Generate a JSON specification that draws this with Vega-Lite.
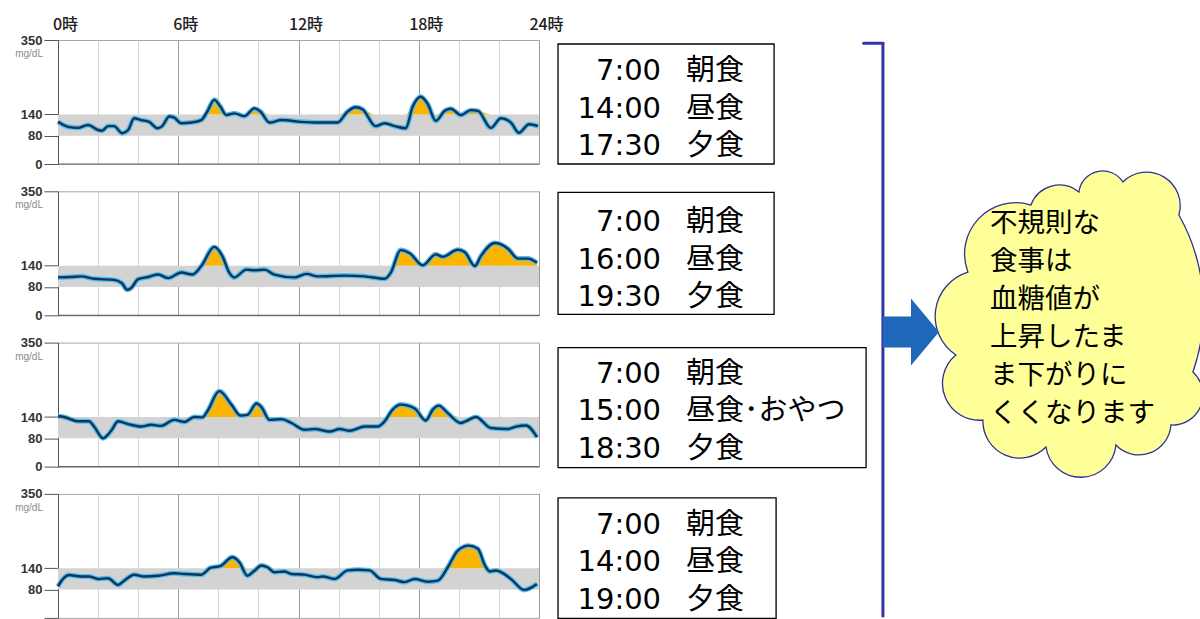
{
  "$schema": "https://vega.github.io/schema/vega-lite/v6.json",
  "background": "white",
  "padding": {"left": 14, "top": 15, "right": 0, "bottom": 0},
  "spacing": 27.3,
  "bounds": "flush",
  "datasets": {
    "note": [{"msg": "不規則な\n食事は\n血糖値が\n上昇したま\nま下がりに\nくくなります"}],
    "meals": [
      {"d": 1, "n": 1, "time": "7:00", "meal": "朝食"},
      {"d": 1, "n": 2, "time": "14:00", "meal": "昼食"},
      {"d": 1, "n": 3, "time": "17:30", "meal": "夕食"},
      {"d": 2, "n": 1, "time": "7:00", "meal": "朝食"},
      {"d": 2, "n": 2, "time": "16:00", "meal": "昼食"},
      {"d": 2, "n": 3, "time": "19:30", "meal": "夕食"},
      {"d": 3, "n": 1, "time": "7:00", "meal": "朝食"},
      {"d": 3, "n": 2, "time": "15:00", "meal": "昼食･おやつ"},
      {"d": 3, "n": 3, "time": "18:30", "meal": "夕食"},
      {"d": 4, "n": 1, "time": "7:00", "meal": "朝食"},
      {"d": 4, "n": 2, "time": "14:00", "meal": "昼食"},
      {"d": 4, "n": 3, "time": "19:00", "meal": "夕食"}
    ],
    "cgm": [
      {"d":1,"t":0,"g":119},{"d":1,"t":0.5,"g":105},{"d":1,"t":1.0,"g":102},{"d":1,"t":1.5,"g":110},{"d":1,"t":2.0,"g":96},{"d":1,"t":2.2,"g":94},{"d":1,"t":2.5,"g":107},{"d":1,"t":2.8,"g":107},{"d":1,"t":3.2,"g":87},{"d":1,"t":3.5,"g":96},{"d":1,"t":3.8,"g":129},{"d":1,"t":4.15,"g":124},{"d":1,"t":4.55,"g":119},{"d":1,"t":4.95,"g":101},{"d":1,"t":5.2,"g":107},{"d":1,"t":5.55,"g":134},{"d":1,"t":5.8,"g":131},{"d":1,"t":6.15,"g":115},{"d":1,"t":6.65,"g":117},{"d":1,"t":7.15,"g":124},{"d":1,"t":7.45,"g":148},{"d":1,"t":7.8,"g":181},{"d":1,"t":8.1,"g":162},{"d":1,"t":8.4,"g":138},{"d":1,"t":8.8,"g":143},{"d":1,"t":9.3,"g":135},{"d":1,"t":9.8,"g":157},{"d":1,"t":10.1,"g":148},{"d":1,"t":10.55,"g":117},{"d":1,"t":11.15,"g":124},{"d":1,"t":12.1,"g":119},{"d":1,"t":13.0,"g":117},{"d":1,"t":13.95,"g":117},{"d":1,"t":14.45,"g":148},{"d":1,"t":14.85,"g":160},{"d":1,"t":15.2,"g":154},{"d":1,"t":15.85,"g":107},{"d":1,"t":16.3,"g":115},{"d":1,"t":16.8,"g":107},{"d":1,"t":17.35,"g":101},{"d":1,"t":17.7,"g":162},{"d":1,"t":18.1,"g":190},{"d":1,"t":18.45,"g":169},{"d":1,"t":18.85,"g":122},{"d":1,"t":19.3,"g":150},{"d":1,"t":19.6,"g":156},{"d":1,"t":20.1,"g":138},{"d":1,"t":20.6,"g":152},{"d":1,"t":20.95,"g":150},{"d":1,"t":21.6,"g":102},{"d":1,"t":22.1,"g":129},{"d":1,"t":22.6,"g":117},{"d":1,"t":23.0,"g":88},{"d":1,"t":23.5,"g":112},{"d":1,"t":23.95,"g":107},
      {"d":2,"t":0,"g":107},{"d":2,"t":0.6,"g":108},{"d":2,"t":1.15,"g":110},{"d":2,"t":1.8,"g":103},{"d":2,"t":2.8,"g":100},{"d":2,"t":3.2,"g":90},{"d":2,"t":3.45,"g":72},{"d":2,"t":3.65,"g":77},{"d":2,"t":4.0,"g":102},{"d":2,"t":4.5,"g":108},{"d":2,"t":5.0,"g":115},{"d":2,"t":5.5,"g":105},{"d":2,"t":6.15,"g":121},{"d":2,"t":6.7,"g":115},{"d":2,"t":7.15,"g":139},{"d":2,"t":7.8,"g":193},{"d":2,"t":8.2,"g":167},{"d":2,"t":8.55,"g":120},{"d":2,"t":8.8,"g":107},{"d":2,"t":9.4,"g":129},{"d":2,"t":9.8,"g":127},{"d":2,"t":10.3,"g":129},{"d":2,"t":10.8,"g":115},{"d":2,"t":11.8,"g":107},{"d":2,"t":12.4,"g":117},{"d":2,"t":12.95,"g":110},{"d":2,"t":14.3,"g":112},{"d":2,"t":15.3,"g":110},{"d":2,"t":16.3,"g":103},{"d":2,"t":16.6,"g":120},{"d":2,"t":17.1,"g":184},{"d":2,"t":17.55,"g":175},{"d":2,"t":18.2,"g":141},{"d":2,"t":18.85,"g":172},{"d":2,"t":19.2,"g":165},{"d":2,"t":19.95,"g":185},{"d":2,"t":20.3,"g":178},{"d":2,"t":20.8,"g":139},{"d":2,"t":21.1,"g":167},{"d":2,"t":21.8,"g":204},{"d":2,"t":22.45,"g":188},{"d":2,"t":22.95,"g":160},{"d":2,"t":23.45,"g":160},{"d":2,"t":23.9,"g":148},
      {"d":3,"t":0,"g":142},{"d":3,"t":0.3,"g":140},{"d":3,"t":1.0,"g":128},{"d":3,"t":1.55,"g":128},{"d":3,"t":1.8,"g":113},{"d":3,"t":2.25,"g":80},{"d":3,"t":2.65,"g":101},{"d":3,"t":3.0,"g":128},{"d":3,"t":3.5,"g":120},{"d":3,"t":4.15,"g":113},{"d":3,"t":4.65,"g":118},{"d":3,"t":5.15,"g":115},{"d":3,"t":5.8,"g":132},{"d":3,"t":6.3,"g":126},{"d":3,"t":6.8,"g":140},{"d":3,"t":7.2,"g":139},{"d":3,"t":7.45,"g":156},{"d":3,"t":8.05,"g":213},{"d":3,"t":8.65,"g":175},{"d":3,"t":9.1,"g":144},{"d":3,"t":9.45,"g":146},{"d":3,"t":9.9,"g":178},{"d":3,"t":10.15,"g":168},{"d":3,"t":10.55,"g":132},{"d":3,"t":11.15,"g":134},{"d":3,"t":11.65,"g":123},{"d":3,"t":12.3,"g":104},{"d":3,"t":12.8,"g":106},{"d":3,"t":13.55,"g":99},{"d":3,"t":14.05,"g":106},{"d":3,"t":14.55,"g":101},{"d":3,"t":15.3,"g":113},{"d":3,"t":15.95,"g":113},{"d":3,"t":16.3,"g":128},{"d":3,"t":16.7,"g":161},{"d":3,"t":17.1,"g":175},{"d":3,"t":17.8,"g":164},{"d":3,"t":18.35,"g":130},{"d":3,"t":18.7,"g":161},{"d":3,"t":19.0,"g":172},{"d":3,"t":19.45,"g":151},{"d":3,"t":20.1,"g":123},{"d":3,"t":20.35,"g":128},{"d":3,"t":20.85,"g":140},{"d":3,"t":21.6,"g":109},{"d":3,"t":22.45,"g":106},{"d":3,"t":22.85,"g":113},{"d":3,"t":23.35,"g":116},{"d":3,"t":23.9,"g":83},
      {"d":4,"t":0,"g":89},{"d":4,"t":0.25,"g":110},{"d":4,"t":0.55,"g":121},{"d":4,"t":1.15,"g":117},{"d":4,"t":1.55,"g":117},{"d":4,"t":2.0,"g":110},{"d":4,"t":2.5,"g":112},{"d":4,"t":3.0,"g":93},{"d":4,"t":3.3,"g":105},{"d":4,"t":3.8,"g":122},{"d":4,"t":4.3,"g":117},{"d":4,"t":5.0,"g":119},{"d":4,"t":5.8,"g":126},{"d":4,"t":6.3,"g":124},{"d":4,"t":7.15,"g":122},{"d":4,"t":7.6,"g":141},{"d":4,"t":8.1,"g":146},{"d":4,"t":8.7,"g":171},{"d":4,"t":9.05,"g":157},{"d":4,"t":9.45,"g":119},{"d":4,"t":9.8,"g":133},{"d":4,"t":10.15,"g":148},{"d":4,"t":10.45,"g":143},{"d":4,"t":10.8,"g":129},{"d":4,"t":11.3,"g":131},{"d":4,"t":11.65,"g":124},{"d":4,"t":12.3,"g":122},{"d":4,"t":12.95,"g":115},{"d":4,"t":13.2,"g":117},{"d":4,"t":13.8,"g":110},{"d":4,"t":14.45,"g":134},{"d":4,"t":14.95,"g":136},{"d":4,"t":15.55,"g":134},{"d":4,"t":16.1,"g":110},{"d":4,"t":16.8,"g":107},{"d":4,"t":17.3,"g":101},{"d":4,"t":17.8,"g":110},{"d":4,"t":18.45,"g":102},{"d":4,"t":18.95,"g":105},{"d":4,"t":19.45,"g":143},{"d":4,"t":19.95,"g":190},{"d":4,"t":20.5,"g":204},{"d":4,"t":20.95,"g":195},{"d":4,"t":21.3,"g":148},{"d":4,"t":21.55,"g":131},{"d":4,"t":21.85,"g":134},{"d":4,"t":22.6,"g":110},{"d":4,"t":23.25,"g":79},{"d":4,"t":23.9,"g":96}
    ]
  },
  "vconcat": [
    {
      "width": 481, "height": 124,
      "resolve": {"scale": {"y": "independent"}},
      "layer": [
        {"layer": [
          {"data": {"name": "meals"}, "transform": [{"filter": "datum.d === 1 && datum.n === 1"}], "mark": {"type": "rect", "color": "#d3d3d3"}, "encoding": {"x": {"datum": 0}, "x2": {"datum": 24}, "y": {"datum": 80}, "y2": {"datum": 140}}},
          {"data": {"name": "cgm"}, "transform": [{"filter": "datum.d === 1"}, {"calculate": "max(datum.g, 140)", "as": "gc"}], "mark": {"type": "area", "color": "#fbb500", "interpolate": "monotone"}, "encoding": {"x": {"field": "t", "type": "quantitative"}, "y": {"field": "gc", "type": "quantitative"}, "y2": {"datum": 140}}},
          {"data": {"name": "cgm"}, "transform": [{"filter": "datum.d === 1"}], "mark": {"type": "line", "color": "#58bdee", "strokeWidth": 5, "interpolate": "monotone"}, "encoding": {
            "x": {"field": "t", "type": "quantitative", "scale": {"domain": [0, 24], "nice": false, "zero": false}, "axis": {"orient": "top", "values": [0,2,4,6,8,10,12,14,16,18,20,22,24], "labelExpr": "datum.value % 6 === 0 ? datum.value + '時' : ''", "labelFlush": false, "labelOverlap": false, "labelFontSize": 16, "labelFont": "Noto Sans CJK JP", "labelFontWeight": 500, "labelColor": "#222", "labelPadding": 8, "labelOffset": 7, "ticks": false, "domain": false, "grid": true, "gridColor": {"condition": {"test": "datum.value % 6 === 0", "value": "#9c9c9c"}, "value": "#d6d6d6"}, "title": null}},
            "y": {"field": "g", "type": "quantitative", "scale": {"domain": [0, 350], "nice": false}, "axis": {"values": [0, 80, 140, 350], "grid": false, "tickSize": 14, "tickColor": "#555", "domainColor": "#555", "labelFontSize": 13, "labelFontWeight": "bold", "labelColor": "#333", "labelPadding": 2, "labelFlush": false, "labelFont": "Liberation Sans", "title": null}}}},
          {"data": {"name": "cgm"}, "transform": [{"filter": "datum.d === 1"}], "mark": {"type": "line", "color": "#0c375a", "strokeWidth": 2.4, "interpolate": "monotone"}, "encoding": {"x": {"field": "t", "type": "quantitative"}, "y": {"field": "g", "type": "quantitative"}}},
          {"data": {"name": "meals"}, "transform": [{"filter": "datum.d === 1 && datum.n === 1"}], "mark": {"type": "rule", "color": "#666", "strokeWidth": 1.2}, "encoding": {"x": {"datum": 0}, "x2": {"datum": 24}, "y": {"datum": 0}}},
          {"data": {"name": "meals"}, "transform": [{"filter": "datum.d === 1 && datum.n === 1"}], "mark": {"type": "text", "text": "mg/dL", "align": "right", "baseline": "middle", "fontSize": 10, "color": "#8a8a8a", "font": "Liberation Sans"}, "encoding": {"x": {"datum": -0.75}, "y": {"datum": 310}}},
          {"data": {"name": "meals"}, "transform": [{"filter": "datum.d === 1 && datum.n === 1"}], "mark": {"type": "rect", "fill": "white", "stroke": "black", "strokeWidth": 1.3}, "encoding": {"x": {"datum": 24.95}, "x2": {"datum": 35.73}, "y": {"datum": 338.7}, "y2": {"datum": 0}}},
          {"data": {"name": "note"}, "mark": {"type": "rule", "color": "#3434a6", "strokeWidth": 3}, "encoding": {"x": {"datum": 41.16}, "y": {"datum": 344}, "y2": {"datum": -1279}}},
          {"data": {"name": "note"}, "mark": {"type": "rule", "color": "#3434a6", "strokeWidth": 3, "strokeCap": "round"}, "encoding": {"x": {"datum": 40.2}, "x2": {"datum": 41.16}, "y": {"datum": 341}}},
          {"data": {"name": "note"}, "mark": {"type": "point", "shape": "M-0.694,-0.306 A0.32,0.32 0 0 1 -0.3,-0.725 A0.19,0.19 0 0 1 0,-0.806 A0.15,0.15 0 0 1 0.275,-0.869 A0.21,0.21 0 0 1 0.625,-0.6625 A1.2,1.2 0 0 1 0.7125,0.319 A0.19,0.19 0 0 1 0.575,0.65 A0.2,0.2 0 0 1 0.231,0.775 A0.22,0.22 0 0 1 -0.206,0.7875 A0.23,0.23 0 0 1 -0.6,0.619 A0.23,0.23 0 0 1 -0.769,0.2125 A0.29,0.29 0 0 1 -0.694,-0.306 Z", "size": 102400, "filled": true, "color": "#ffff99", "stroke": "#2e3192", "strokeWidth": 1.3, "opacity": 1}, "encoding": {"x": {"datum": 50.94}, "y": {"datum": -443.2}}},
          {"data": {"name": "note"}, "mark": {"type": "point", "shape": "M-0.836,-0.463L0,-0.463L0,-1L0.836,0L0,1L0,0.463L-0.836,0.463Z", "size": 4489, "filled": true, "color": "#1f67b9", "opacity": 1}, "encoding": {"x": {"datum": 42.56}, "y": {"datum": -474.2}}},
          {"data": {"name": "note"}, "mark": {"type": "text", "align": "left", "baseline": "middle", "fontSize": 27.5, "lineHeight": 38, "lineBreak": "\n", "font": "Noto Sans CJK JP", "color": "black"}, "encoding": {"x": {"datum": 46.5}, "y": {"datum": -169.4}, "text": {"field": "msg"}}}
        ]},
        {"data": {"name": "meals"}, "transform": [{"filter": "datum.d === 1"}],
         "encoding": {"y": {"field": "n", "type": "quantitative", "scale": {"domain": [0.173, 3.48], "reverse": true, "nice": false, "zero": false}, "axis": null}},
         "layer": [
          {"mark": {"type": "text", "align": "right", "baseline": "middle", "fontSize": 29, "font": "DejaVu Sans, Noto Sans CJK JP", "color": "black"}, "encoding": {"x": {"datum": 30.09}, "text": {"field": "time"}}},
          {"mark": {"type": "text", "align": "left", "baseline": "middle", "fontSize": 29, "font": "DejaVu Sans, Noto Sans CJK JP", "color": "black"}, "encoding": {"x": {"datum": 31.33}, "text": {"field": "meal"}}}
        ]}
      ]
    },
    {
      "width": 481, "height": 124,
      "resolve": {"scale": {"y": "independent"}},
      "layer": [
        {"layer": [
          {"data": {"name": "meals"}, "transform": [{"filter": "datum.d === 2 && datum.n === 1"}], "mark": {"type": "rect", "color": "#d3d3d3"}, "encoding": {"x": {"datum": 0}, "x2": {"datum": 24}, "y": {"datum": 80}, "y2": {"datum": 140}}},
          {"data": {"name": "cgm"}, "transform": [{"filter": "datum.d === 2"}, {"calculate": "max(datum.g, 140)", "as": "gc"}], "mark": {"type": "area", "color": "#fbb500", "interpolate": "monotone"}, "encoding": {"x": {"field": "t", "type": "quantitative"}, "y": {"field": "gc", "type": "quantitative"}, "y2": {"datum": 140}}},
          {"data": {"name": "cgm"}, "transform": [{"filter": "datum.d === 2"}], "mark": {"type": "line", "color": "#58bdee", "strokeWidth": 5, "interpolate": "monotone"}, "encoding": {
            "x": {"field": "t", "type": "quantitative", "scale": {"domain": [0, 24], "nice": false, "zero": false}, "axis": {"orient": "top", "values": [0,2,4,6,8,10,12,14,16,18,20,22,24], "labels": false, "ticks": false, "domain": false, "grid": true, "gridColor": {"condition": {"test": "datum.value % 6 === 0", "value": "#9c9c9c"}, "value": "#d6d6d6"}, "title": null}},
            "y": {"field": "g", "type": "quantitative", "scale": {"domain": [0, 350], "nice": false}, "axis": {"values": [0, 80, 140, 350], "grid": false, "tickSize": 14, "tickColor": "#555", "domainColor": "#555", "labelFontSize": 13, "labelFontWeight": "bold", "labelColor": "#333", "labelPadding": 2, "labelFlush": false, "labelFont": "Liberation Sans", "title": null}}}},
          {"data": {"name": "cgm"}, "transform": [{"filter": "datum.d === 2"}], "mark": {"type": "line", "color": "#0c375a", "strokeWidth": 2.4, "interpolate": "monotone"}, "encoding": {"x": {"field": "t", "type": "quantitative"}, "y": {"field": "g", "type": "quantitative"}}},
          {"data": {"name": "meals"}, "transform": [{"filter": "datum.d === 2 && datum.n === 1"}], "mark": {"type": "rule", "color": "#666", "strokeWidth": 1.2}, "encoding": {"x": {"datum": 0}, "x2": {"datum": 24}, "y": {"datum": 0}}},
          {"data": {"name": "meals"}, "transform": [{"filter": "datum.d === 2 && datum.n === 1"}], "mark": {"type": "text", "text": "mg/dL", "align": "right", "baseline": "middle", "fontSize": 10, "color": "#8a8a8a", "font": "Liberation Sans"}, "encoding": {"x": {"datum": -0.75}, "y": {"datum": 310}}},
          {"data": {"name": "meals"}, "transform": [{"filter": "datum.d === 2 && datum.n === 1"}], "mark": {"type": "rect", "fill": "white", "stroke": "black", "strokeWidth": 1.3}, "encoding": {"x": {"datum": 24.95}, "x2": {"datum": 35.73}, "y": {"datum": 347.2}, "y2": {"datum": 2.8}}}
        ]},
        {"data": {"name": "meals"}, "transform": [{"filter": "datum.d === 2"}],
         "encoding": {"y": {"field": "n", "type": "quantitative", "scale": {"domain": [0.173, 3.48], "reverse": true, "nice": false, "zero": false}, "axis": null}},
         "layer": [
          {"mark": {"type": "text", "align": "right", "baseline": "middle", "fontSize": 29, "font": "DejaVu Sans, Noto Sans CJK JP", "color": "black"}, "encoding": {"x": {"datum": 30.09}, "text": {"field": "time"}}},
          {"mark": {"type": "text", "align": "left", "baseline": "middle", "fontSize": 29, "font": "DejaVu Sans, Noto Sans CJK JP", "color": "black"}, "encoding": {"x": {"datum": 31.33}, "text": {"field": "meal"}}}
        ]}
      ]
    },
    {
      "width": 481, "height": 124,
      "resolve": {"scale": {"y": "independent"}},
      "layer": [
        {"layer": [
          {"data": {"name": "meals"}, "transform": [{"filter": "datum.d === 3 && datum.n === 1"}], "mark": {"type": "rect", "color": "#d3d3d3"}, "encoding": {"x": {"datum": 0}, "x2": {"datum": 24}, "y": {"datum": 80}, "y2": {"datum": 140}}},
          {"data": {"name": "cgm"}, "transform": [{"filter": "datum.d === 3"}, {"calculate": "max(datum.g, 140)", "as": "gc"}], "mark": {"type": "area", "color": "#fbb500", "interpolate": "monotone"}, "encoding": {"x": {"field": "t", "type": "quantitative"}, "y": {"field": "gc", "type": "quantitative"}, "y2": {"datum": 140}}},
          {"data": {"name": "cgm"}, "transform": [{"filter": "datum.d === 3"}], "mark": {"type": "line", "color": "#58bdee", "strokeWidth": 5, "interpolate": "monotone"}, "encoding": {
            "x": {"field": "t", "type": "quantitative", "scale": {"domain": [0, 24], "nice": false, "zero": false}, "axis": {"orient": "top", "values": [0,2,4,6,8,10,12,14,16,18,20,22,24], "labels": false, "ticks": false, "domain": false, "grid": true, "gridColor": {"condition": {"test": "datum.value % 6 === 0", "value": "#9c9c9c"}, "value": "#d6d6d6"}, "title": null}},
            "y": {"field": "g", "type": "quantitative", "scale": {"domain": [0, 350], "nice": false}, "axis": {"values": [0, 80, 140, 350], "grid": false, "tickSize": 14, "tickColor": "#555", "domainColor": "#555", "labelFontSize": 13, "labelFontWeight": "bold", "labelColor": "#333", "labelPadding": 2, "labelFlush": false, "labelFont": "Liberation Sans", "title": null}}}},
          {"data": {"name": "cgm"}, "transform": [{"filter": "datum.d === 3"}], "mark": {"type": "line", "color": "#0c375a", "strokeWidth": 2.4, "interpolate": "monotone"}, "encoding": {"x": {"field": "t", "type": "quantitative"}, "y": {"field": "g", "type": "quantitative"}}},
          {"data": {"name": "meals"}, "transform": [{"filter": "datum.d === 3 && datum.n === 1"}], "mark": {"type": "rule", "color": "#666", "strokeWidth": 1.2}, "encoding": {"x": {"datum": 0}, "x2": {"datum": 24}, "y": {"datum": 0}}},
          {"data": {"name": "meals"}, "transform": [{"filter": "datum.d === 3 && datum.n === 1"}], "mark": {"type": "text", "text": "mg/dL", "align": "right", "baseline": "middle", "fontSize": 10, "color": "#8a8a8a", "font": "Liberation Sans"}, "encoding": {"x": {"datum": -0.75}, "y": {"datum": 310}}},
          {"data": {"name": "meals"}, "transform": [{"filter": "datum.d === 3 && datum.n === 1"}], "mark": {"type": "rect", "fill": "white", "stroke": "black", "strokeWidth": 1.3}, "encoding": {"x": {"datum": 24.95}, "x2": {"datum": 40.32}, "y": {"datum": 335.9}, "y2": {"datum": -2.8}}}
        ]},
        {"data": {"name": "meals"}, "transform": [{"filter": "datum.d === 3"}],
         "encoding": {"y": {"field": "n", "type": "quantitative", "scale": {"domain": [0.173, 3.48], "reverse": true, "nice": false, "zero": false}, "axis": null}},
         "layer": [
          {"mark": {"type": "text", "align": "right", "baseline": "middle", "fontSize": 29, "font": "DejaVu Sans, Noto Sans CJK JP", "color": "black"}, "encoding": {"x": {"datum": 30.09}, "text": {"field": "time"}}},
          {"mark": {"type": "text", "align": "left", "baseline": "middle", "fontSize": 29, "font": "DejaVu Sans, Noto Sans CJK JP", "color": "black"}, "encoding": {"x": {"datum": 31.33}, "text": {"field": "meal"}}}
        ]}
      ]
    },
    {
      "width": 481, "height": 124,
      "resolve": {"scale": {"y": "independent"}},
      "layer": [
        {"layer": [
          {"data": {"name": "meals"}, "transform": [{"filter": "datum.d === 4 && datum.n === 1"}], "mark": {"type": "rect", "color": "#d3d3d3"}, "encoding": {"x": {"datum": 0}, "x2": {"datum": 24}, "y": {"datum": 80}, "y2": {"datum": 140}}},
          {"data": {"name": "cgm"}, "transform": [{"filter": "datum.d === 4"}, {"calculate": "max(datum.g, 140)", "as": "gc"}], "mark": {"type": "area", "color": "#fbb500", "interpolate": "monotone"}, "encoding": {"x": {"field": "t", "type": "quantitative"}, "y": {"field": "gc", "type": "quantitative"}, "y2": {"datum": 140}}},
          {"data": {"name": "cgm"}, "transform": [{"filter": "datum.d === 4"}], "mark": {"type": "line", "color": "#58bdee", "strokeWidth": 5, "interpolate": "monotone"}, "encoding": {
            "x": {"field": "t", "type": "quantitative", "scale": {"domain": [0, 24], "nice": false, "zero": false}, "axis": {"orient": "top", "values": [0,2,4,6,8,10,12,14,16,18,20,22,24], "labels": false, "ticks": false, "domain": false, "grid": true, "gridColor": {"condition": {"test": "datum.value % 6 === 0", "value": "#9c9c9c"}, "value": "#d6d6d6"}, "title": null}},
            "y": {"field": "g", "type": "quantitative", "scale": {"domain": [0, 350], "nice": false}, "axis": {"values": [0, 80, 140, 350], "labelExpr": "datum.value === 0 ? '' : datum.label", "grid": false, "tickSize": 14, "tickColor": "#555", "domainColor": "#555", "labelFontSize": 13, "labelFontWeight": "bold", "labelColor": "#333", "labelPadding": 2, "labelFlush": false, "labelFont": "Liberation Sans", "title": null}}}},
          {"data": {"name": "cgm"}, "transform": [{"filter": "datum.d === 4"}], "mark": {"type": "line", "color": "#0c375a", "strokeWidth": 2.4, "interpolate": "monotone"}, "encoding": {"x": {"field": "t", "type": "quantitative"}, "y": {"field": "g", "type": "quantitative"}}},
          {"data": {"name": "meals"}, "transform": [{"filter": "datum.d === 4 && datum.n === 1"}], "mark": {"type": "text", "text": "mg/dL", "align": "right", "baseline": "middle", "fontSize": 10, "color": "#8a8a8a", "font": "Liberation Sans"}, "encoding": {"x": {"datum": -0.75}, "y": {"datum": 310}}},
          {"data": {"name": "meals"}, "transform": [{"filter": "datum.d === 4 && datum.n === 1"}], "mark": {"type": "rect", "fill": "white", "stroke": "black", "strokeWidth": 1.3}, "encoding": {"x": {"datum": 24.95}, "x2": {"datum": 35.83}, "y": {"datum": 338.7}, "y2": {"datum": -1.5}}}
        ]},
        {"data": {"name": "meals"}, "transform": [{"filter": "datum.d === 4"}],
         "encoding": {"y": {"field": "n", "type": "quantitative", "scale": {"domain": [0.173, 3.48], "reverse": true, "nice": false, "zero": false}, "axis": null}},
         "layer": [
          {"mark": {"type": "text", "align": "right", "baseline": "middle", "fontSize": 29, "font": "DejaVu Sans, Noto Sans CJK JP", "color": "black"}, "encoding": {"x": {"datum": 30.09}, "text": {"field": "time"}}},
          {"mark": {"type": "text", "align": "left", "baseline": "middle", "fontSize": 29, "font": "DejaVu Sans, Noto Sans CJK JP", "color": "black"}, "encoding": {"x": {"datum": 31.33}, "text": {"field": "meal"}}}
        ]}
      ]
    }
  ],
  "config": {
    "view": {"stroke": "#a6a6a6", "strokeWidth": 1},
    "axis": {"labelFont": "Liberation Sans", "titleFont": "Liberation Sans"}
  }
}
